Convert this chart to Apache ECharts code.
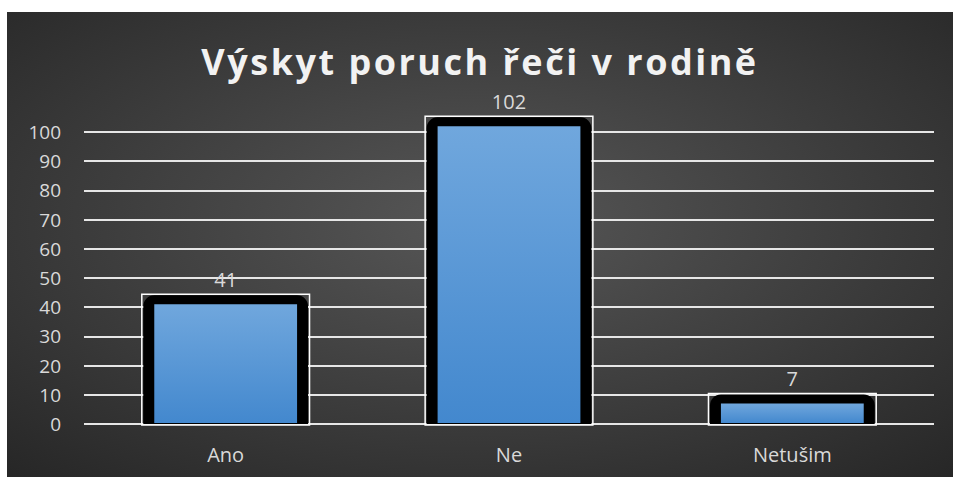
<!DOCTYPE html>
<html lang="cs">
<head>
	<meta charset="UTF-8">
	<title>Výskyt poruch řeči v rodině</title>
	<style type="text/css">
	body {
		margin: 0;
		background: #fff;
	}
	.chart {
		position: absolute;
		left: 7px;
		top: 12px;
		width: 946px;
		height: 465px;
	}
	/* nadpis je v originale prolozeny */
	.chart text[style*="bold"] {
		letter-spacing: 2.5px;
	}
	</style>
</head>
<body>
	<div class="chart"></div>

	<script type="text/javascript" src="https://cdn.jsdelivr.net/npm/echarts@6/dist/echarts.min.js"></script>
	<script type="text/javascript">

		// data
		var titleText = 'Výskyt poruch řeči v rodině';
		var categories = ['Ano', 'Ne', 'Netušim'];
		var counts = [41, 102, 7];
		var yMin = 0, yMax = 100, yStep = 10;

		var chart = echarts.init(document.getElementsByClassName('chart')[0], null, { renderer: 'svg' });

		var labelColor = '#d9d9d9';
		var fontName = '"Open Sans", sans-serif';

		var blueFill = new echarts.graphic.LinearGradient(0, 0, 0, 1, [
			{ offset: 0, color: '#70a7dd' },
			{ offset: 1, color: '#4388ce' }
		]);

		// sloupec: bily ramecek, cerny zaobleny okraj, modra vypln a hodnota nad nim
		function renderBar (params, api) {
			var idx = api.value(0);
			var val = api.value(1);
			var top = api.coord([idx, val]);
			var base = api.coord([idx, 0]);
			var cw = api.size([1, 0])[0];
			var outer = cw * 0.296;
			var inner = cw * 0.252;
			var cx = top[0];
			return {
				type: 'group',
				children: [
					{
						type: 'rect',
						shape: { x: cx - outer, y: top[1] - 10, width: outer * 2, height: base[1] - top[1] + 11 },
						style: { fill: 'none', stroke: '#ffffff', lineWidth: 1.5 }
					},
					{
						type: 'rect',
						shape: { x: cx - outer + 1.5, y: top[1] - 9, width: outer * 2 - 3, height: base[1] - top[1] + 9, r: [11, 11, 0, 0] },
						style: { fill: '#000000' }
					},
					{
						type: 'rect',
						shape: { x: cx - inner, y: top[1], width: inner * 2, height: base[1] - top[1] - 1 },
						style: { fill: blueFill }
					},
					{
						type: 'text',
						x: cx,
						y: top[1] - 15,
						style: {
							text: String(val),
							fill: labelColor,
							fontSize: 20,
							fontFamily: fontName,
							align: 'center',
							verticalAlign: 'bottom'
						}
					}
				]
			};
		}

		var option = {
			backgroundColor: new echarts.graphic.RadialGradient(0.5, 0.45, 0.75, [
				{ offset: 0, color: '#575757' },
				{ offset: 1, color: '#262626' }
			]),
			title: {
				text: titleText,
				left: 'center',
				top: 26,
				textStyle: {
					color: '#f2f2f2',
					fontSize: 36,
					fontWeight: 'bold',
					fontFamily: fontName
				}
			},
			grid: {
				left: 77,
				right: 19,
				top: 120,
				bottom: 53
			},
			xAxis: {
				type: 'category',
				data: categories,
				axisLine: { show: false },
				axisTick: { show: false },
				axisLabel: {
					color: labelColor,
					fontSize: 20,
					fontFamily: fontName,
					margin: 20
				}
			},
			yAxis: {
				type: 'value',
				min: yMin,
				max: yMax,
				interval: yStep,
				axisLine: { show: false },
				axisTick: { show: false },
				axisLabel: {
					color: labelColor,
					fontSize: 19,
					fontFamily: fontName,
					margin: 23
				},
				splitLine: {
					lineStyle: { color: '#e6e6e6', width: 2 }
				}
			},
			series: [{
				type: 'custom',
				clip: false,
				renderItem: renderBar,
				data: categories.map(function (c, i) { return [i, counts[i]]; })
			}]
		};

		chart.setOption(option);

	</script>
</body>
</html>
